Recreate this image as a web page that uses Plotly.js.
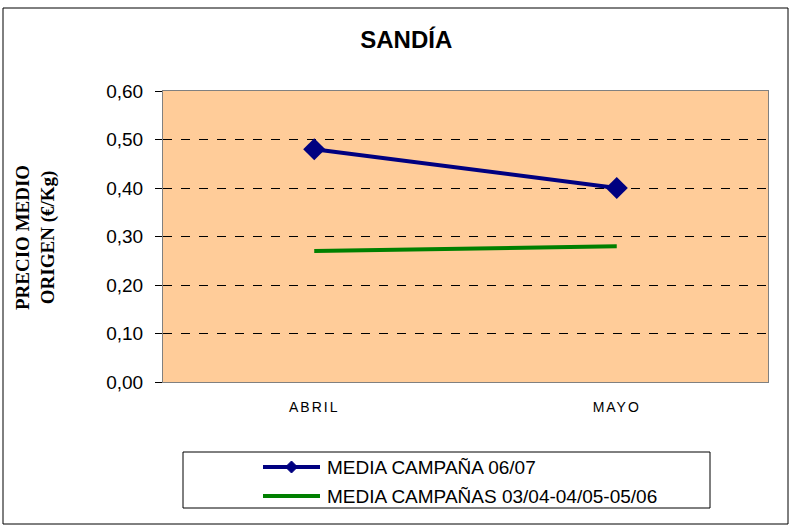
<!DOCTYPE html>
<html><head><meta charset="utf-8">
<script src="https://cdn.plot.ly/plotly-3.0.1.min.js"></script>
<style>body{margin:0;background:#fff}#c{width:792px;height:528px}
.xtick text{letter-spacing:2px}</style>
</head><body><div id="c"></div>
<script>
const categories = ['ABRIL', 'MAYO'];
const media0607 = [0.48, 0.40];
const mediaCampanas = [0.27, 0.28];
const seriesNames = ['MEDIA CAMPAÑA 06/07', 'MEDIA CAMPAÑAS 03/04-04/05-05/06'];
const seriesColors = ['#000080', '#008000'];
const yTicks = [0, 0.1, 0.2, 0.3, 0.4, 0.5, 0.6];

const traces = [
  {x: categories, y: media0607, name: seriesNames[0], type: 'scatter', mode: 'lines+markers',
   line: {color: seriesColors[0], width: 4}, marker: {symbol: 'diamond', size: 17, color: seriesColors[0]}},
  {x: categories, y: mediaCampanas, name: seriesNames[1], type: 'scatter', mode: 'lines',
   line: {color: seriesColors[1], width: 4}}
];

// pixel -> paper helpers for decorations (frame, legend box)
const L = 163, T = 91, W = 605, H = 291;
const px = x => (x - L) / W;
const py = y => (T + H - y) / H;

const legendRows = [467, 496];
const shapes = [
  {type: 'rect', xref: 'paper', yref: 'paper', x0: px(3), x1: px(788), y0: py(524), y1: py(8),
   line: {color: '#000', width: 1}, fillcolor: 'rgba(0,0,0,0)', layer: 'below'},
  {type: 'rect', xref: 'paper', yref: 'paper', x0: px(183), x1: px(710), y0: py(508), y1: py(452),
   line: {color: '#000', width: 1}, fillcolor: 'rgba(0,0,0,0)'}
];
const annotations = [
  {text: '<b>PRECIO MEDIO<br>ORIGEN (€/Kg)</b>', xref: 'paper', yref: 'paper',
   x: px(35), y: py(238), textangle: -90, showarrow: false, xanchor: 'center', yanchor: 'middle',
   font: {family: 'Liberation Serif, Times New Roman', size: 19, color: '#000'}}
];
seriesNames.forEach((name, i) => {
  const yy = py(legendRows[i]);
  shapes.push({type: 'line', xref: 'paper', yref: 'paper', x0: px(263), x1: px(320), y0: yy, y1: yy,
               line: {color: seriesColors[i], width: 4}});
  if (i === 0) {
    shapes.push({type: 'path', xref: 'paper', yref: 'paper', xsizemode: 'pixel', ysizemode: 'pixel',
                 xanchor: px(291.5), yanchor: yy, path: 'M -6 0 L 0 6 L 6 0 L 0 -6 Z',
                 fillcolor: seriesColors[i], line: {color: seriesColors[i], width: 1}});
  }
  annotations.push({text: name, xref: 'paper', yref: 'paper', x: px(325), y: yy,
                    xanchor: 'left', yanchor: 'middle', showarrow: false,
                    font: {family: 'Liberation Sans, Arial', size: 19, color: '#000'}});
});

const layout = {
  width: 792, height: 528,
  margin: {l: L, r: 792 - L - W, t: T, b: 528 - T - H},
  paper_bgcolor: '#ffffff', plot_bgcolor: '#FFCC99',
  separators: ',.',
  showlegend: false,
  title: {text: '<b>SANDÍA</b>', x: 0.513, xref: 'container', xanchor: 'center', y: 0.925, yref: 'container', yanchor: 'middle',
          font: {family: 'Liberation Sans, Arial', size: 24, color: '#000'}},
  xaxis: {type: 'category', range: [-0.5, 1.5], showgrid: false, zeroline: false,
          showline: true, linecolor: '#808080', linewidth: 1, mirror: true,
          ticks: '', ticklabelstandoff: 12,
          tickfont: {family: 'Liberation Sans, Arial', size: 14, color: '#000'}},
  yaxis: {range: [0, 0.6], tickvals: yTicks, tickformat: '.2f', showgrid: true,
          gridcolor: '#000000', griddash: 'dash', gridwidth: 1, zeroline: false,
          showline: true, linecolor: '#808080', linewidth: 1, mirror: true,
          ticks: 'outside', ticklen: 7, tickcolor: '#000', ticklabelstandoff: 8,
          tickfont: {family: 'Liberation Sans, Arial', size: 19, color: '#000'}},
  annotations: annotations,
  shapes: shapes
};
Plotly.newPlot('c', traces, layout, {displayModeBar: false});
</script></body></html>
